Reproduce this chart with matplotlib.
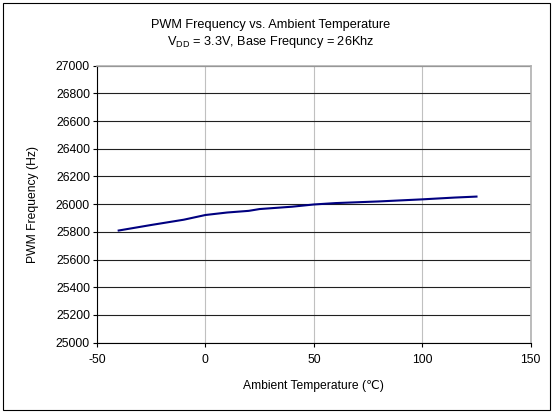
import matplotlib
matplotlib.use("Agg")
import matplotlib.pyplot as plt
from matplotlib.patches import Rectangle

# valores
temperature = [-40, -25, -10, 0, 10, 20, 25, 40, 50, 60, 80, 100, 115, 125]
frequency = [25810, 25850, 25888, 25922, 25940, 25952, 25965, 25982, 25998, 26008, 26020, 26035, 26048, 26055]
x_ticks = [-50, 0, 50, 100, 150]
y_ticks = list(range(25000, 27001, 200))

plt.rcParams['font.family'] = ['Liberation Sans', 'DejaVu Sans']
plt.rcParams['axes.unicode_minus'] = False

fig = plt.figure(figsize=(5.53, 4.13), dpi=100)
ax = fig.add_axes([97 / 553, 1 - 342.7 / 413, (530.7 - 97) / 553, (342.7 - 65.7) / 413])

ax.plot(temperature, frequency, color='#000080', lw=1.5, zorder=3)

ax.set_xlim(-50, 150)
ax.set_ylim(25000, 27000)
ax.set_xticks(x_ticks)
ax.set_yticks(y_ticks)
ax.tick_params(labelsize=8.7, length=3, width=0.8)
ax.tick_params(axis='x', pad=5)
ax.tick_params(axis='y', pad=2)

ax.yaxis.grid(True, color='#202020', lw=0.8)
ax.xaxis.grid(True, color='#c0c0c0', lw=0.8)
ax.set_axisbelow(True)

for side in ['left', 'bottom']:
    ax.spines[side].set_color('black')
    ax.spines[side].set_linewidth(0.8)
for side in ['top', 'right']:
    ax.spines[side].set_color('#b0b0b0')
    ax.spines[side].set_linewidth(1.2)

ax.set_xlabel('Ambient Temperature (\u2103)', fontsize=8.7)
ax.set_ylabel('PWM Frequency (Hz)', fontsize=8.7)
ax.xaxis.set_label_coords(0.5, -37.5 / 277, transform=ax.transAxes)
ax.yaxis.set_label_coords(-58 / 433.7, 0.5, transform=ax.transAxes)

fig.text(0.49, 1 - 25 / 413, 'PWM Frequency vs. Ambient Temperature',
         ha='center', va='center', fontsize=9.2)
fig.text(0.49, 1 - 42 / 413, r'V$_{\mathregular{DD}}$ = 3.3V, Base Frequncy = 26Khz',
         ha='center', va='center', fontsize=9.2)

# borde exterior
fig.patches.append(Rectangle((3 / 553, 3 / 413), 1 - 6 / 553, 1 - 6 / 413,
                             transform=fig.transFigure, fill=False,
                             edgecolor='black', lw=0.8))

fig.savefig('out.png', dpi=100)
